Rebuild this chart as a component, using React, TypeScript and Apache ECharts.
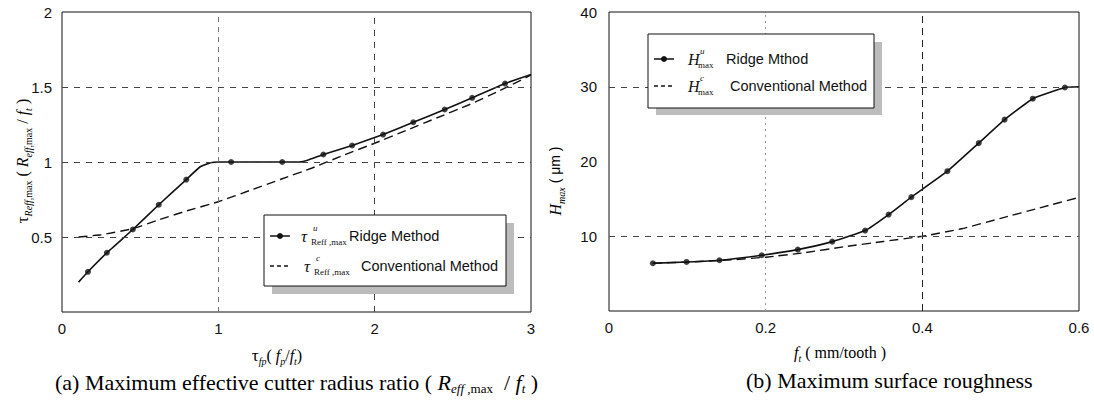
import React, { useEffect, useRef } from 'react';
import * as echarts from 'echarts';

// ---------- (a) data ----------
const ridgeA_x = [0.106, 0.166, 0.287, 0.453, 0.619, 0.795, 0.88, 0.95, 1.0, 1.082, 1.409, 1.52, 1.58, 1.672, 1.856, 2.054, 2.247, 2.448, 2.624, 2.834, 3.0];
const ridgeA_y = [0.199, 0.268, 0.395, 0.55, 0.715, 0.883, 0.965, 0.995, 1.0, 1.0, 1.0, 1.0, 1.015, 1.05, 1.11, 1.183, 1.265, 1.35, 1.428, 1.523, 1.583];
const markA_x = [0.166, 0.287, 0.453, 0.619, 0.795, 1.082, 1.409, 1.672, 1.856, 2.054, 2.247, 2.448, 2.624, 2.834];
const markA_y = [0.268, 0.395, 0.55, 0.715, 0.883, 1.0, 1.0, 1.05, 1.11, 1.183, 1.265, 1.35, 1.428, 1.523];
const convA_x = [0.106, 0.25, 0.45, 0.62, 0.8, 1.0, 1.2, 1.4, 1.6, 1.8, 2.0, 2.2, 2.4, 2.6, 2.8, 3.0];
const convA_y = [0.5, 0.515, 0.555, 0.615, 0.675, 0.735, 0.81, 0.885, 0.96, 1.045, 1.125, 1.21, 1.295, 1.38, 1.475, 1.58];
const gridA_x = [1, 2];
const gridA_y = [0.5, 1, 1.5];

// ---------- (b) data ----------
const ridgeB_x = [0.056, 0.099, 0.141, 0.195, 0.241, 0.285, 0.327, 0.357, 0.386, 0.432, 0.472, 0.505, 0.541, 0.582, 0.6];
const ridgeB_y = [6.39, 6.56, 6.79, 7.46, 8.21, 9.28, 10.76, 12.9, 15.23, 18.7, 22.46, 25.6, 28.4, 29.9, 30.0];
const markB_x = [0.056, 0.099, 0.141, 0.195, 0.241, 0.285, 0.327, 0.357, 0.386, 0.432, 0.472, 0.505, 0.541, 0.582];
const markB_y = [6.39, 6.56, 6.79, 7.46, 8.21, 9.28, 10.76, 12.9, 15.23, 18.7, 22.46, 25.6, 28.4, 29.9];
const convB_x = [0.056, 0.1, 0.15, 0.2, 0.25, 0.3, 0.35, 0.4, 0.45, 0.5, 0.55, 0.6];
const convB_y = [6.39, 6.55, 6.8, 7.2, 7.8, 8.6, 9.3, 10.0, 11.0, 12.4, 13.8, 15.2];
const gridB_x = [0.2, 0.4];
const gridB_y = [10, 30];

const zip = (xs: number[], ys: number[]) => xs.map((x, i) => [x, ys[i]]);

const SANS = '"Liberation Sans", Arial, sans-serif';
const SERIF = '"Liberation Serif", "Times New Roman", serif';

const subRich = {
  t: { fontFamily: SERIF, fontSize: 17, lineHeight: 22, color: '#111' },
  i: { fontFamily: SERIF, fontStyle: 'italic', fontSize: 16, lineHeight: 22, color: '#111' },
  n: { fontFamily: SERIF, fontSize: 16, lineHeight: 22, color: '#111' },
  ns: { fontFamily: SANS, fontSize: 14, lineHeight: 22, color: '#111' },
  s: { fontFamily: SERIF, fontStyle: 'italic', fontSize: 10, verticalAlign: 'bottom', color: '#111' },
  su: { fontFamily: SERIF, fontSize: 10, verticalAlign: 'bottom', color: '#111' },
};

const capRich = {
  n: { fontFamily: SERIF, fontSize: 22, lineHeight: 26, color: '#111' },
  i: { fontFamily: SERIF, fontStyle: 'italic', fontSize: 22, lineHeight: 26, color: '#111' },
  s: { fontFamily: SERIF, fontStyle: 'italic', fontSize: 13, verticalAlign: 'bottom', color: '#111' },
  su: { fontFamily: SERIF, fontSize: 13, verticalAlign: 'bottom', color: '#111' },
};

function txt(x: number, y: number, text: string, font: string, extra: any = {}) {
  return { type: 'text', x, y, z: 110, style: { text, font, fill: '#111', verticalAlign: 'middle', ...extra } };
}

function legendRow(lx: number, y: number, dashed: boolean, sym: string, symX: number, sup: string, sub: string, subX: number, label: string, labelX: number, symFont: string) {
  const els: any[] = [
    { type: 'line', z: 110, shape: { x1: lx, y1: y, x2: lx + 20, y2: y }, style: { stroke: '#111', lineWidth: dashed ? 1.3 : 1.5, lineDash: dashed ? [4, 3] : null } },
  ];
  if (!dashed) els.push({ type: 'circle', z: 111, shape: { cx: lx + 10, cy: y, r: 3 }, style: { fill: '#111' } });
  els.push(txt(symX, y, sym, symFont));
  els.push(txt(subX + 2, y - 8, sup, 'italic 9px ' + SERIF));
  els.push(txt(subX, y + 6, sub, '9px ' + SERIF));
  els.push(txt(labelX, y, label, '14.5px ' + SANS));
  return els;
}

const gridMarkLine = (xs: number[], ys: number[], styles?: any[]) => ({
  silent: true,
  symbol: ['none', 'none'],
  label: { show: false },
  lineStyle: { type: [6, 6], color: '#444', width: 1 },
  data: [
    ...xs.map((v, i) => ({ xAxis: v, lineStyle: styles && styles[i] ? styles[i] : undefined })),
    ...ys.map((v) => ({ yAxis: v })),
  ],
});

export default function App() {
  const ref = useRef<HTMLDivElement>(null);
  useEffect(() => {
    document.body.style.margin = '0';
    const chart = echarts.init(ref.current!, null, { renderer: 'svg' });
    const axisLabel = { fontFamily: SANS, fontSize: 15, color: '#111' };
    const option: any = {
      animation: false,
      backgroundColor: '#fff',
      grid: [
        { left: 62, top: 12, width: 469, height: 300, show: true, borderColor: '#111', borderWidth: 1, backgroundColor: 'transparent' },
        { left: 609, top: 12, width: 470, height: 299, show: true, borderColor: '#111', borderWidth: 1, backgroundColor: 'transparent' },
      ],
      xAxis: [
        { type: 'value', gridIndex: 0, min: 0, max: 3, interval: 1, axisLine: { show: false }, axisTick: { show: false }, splitLine: { show: false },
          axisLabel: { ...axisLabel, margin: 9 } },
        { type: 'value', gridIndex: 1, min: 0, max: 0.6, interval: 0.2, axisLine: { show: false }, axisTick: { show: false }, splitLine: { show: false },
          axisLabel: { ...axisLabel, margin: 9, formatter: (v: number) => (v === 0 ? '0' : v.toFixed(1)) } },
      ],
      yAxis: [
        { type: 'value', gridIndex: 0, min: 0, max: 2, interval: 0.5, axisLine: { show: false }, axisTick: { show: false }, splitLine: { show: false },
          axisLabel: { ...axisLabel, margin: 10, formatter: (v: number) => (v === 0 ? '' : String(v)) } },
        { type: 'value', gridIndex: 1, min: 0, max: 40, interval: 10, axisLine: { show: false }, axisTick: { show: false }, splitLine: { show: false },
          axisLabel: { ...axisLabel, margin: 12, formatter: (v: number) => (v === 0 ? '' : String(v)) } },
      ],
      series: [
        { type: 'line', xAxisIndex: 0, yAxisIndex: 0, data: zip(convA_x, convA_y), symbol: 'none', smooth: 0.15,
          lineStyle: { color: '#111', width: 1.4, type: [9, 5] }, z: 3,
          markLine: gridMarkLine(gridA_x, gridA_y, [{ type: [5, 5], color: '#777', width: 1 }, null]) },
        { type: 'line', xAxisIndex: 0, yAxisIndex: 0, data: zip(ridgeA_x, ridgeA_y), symbol: 'none', smooth: 0.12,
          lineStyle: { color: '#111', width: 1.6 }, z: 4 },
        { type: 'scatter', xAxisIndex: 0, yAxisIndex: 0, data: zip(markA_x, markA_y), symbolSize: 6, itemStyle: { color: '#111' }, z: 5 },

        { type: 'line', xAxisIndex: 1, yAxisIndex: 1, data: zip(convB_x, convB_y), symbol: 'none', smooth: 0.15,
          lineStyle: { color: '#111', width: 1.4, type: [9, 5] }, z: 3,
          markLine: gridMarkLine(gridB_x, gridB_y, [{ type: [2, 4], color: '#999', width: 1 }, { type: [7, 5], color: '#222', width: 1 }]) },
        { type: 'line', xAxisIndex: 1, yAxisIndex: 1, data: zip(ridgeB_x, ridgeB_y), symbol: 'none', smooth: 0.12,
          lineStyle: { color: '#111', width: 1.6 }, z: 4 },
        { type: 'scatter', xAxisIndex: 1, yAxisIndex: 1, data: zip(markB_x, markB_y), symbolSize: 6, itemStyle: { color: '#111' }, z: 5 },
      ],
      graphic: [
        // legend (a)
        { type: 'rect', z: 100, shape: { x: 272, y: 223, width: 242, height: 71 }, style: { fill: '#bcbcbc' } },
        { type: 'rect', z: 101, shape: { x: 264, y: 215, width: 242, height: 71 }, style: { fill: '#fff', stroke: '#111', lineWidth: 1 } },
        ...legendRow(270, 236, false, 'τ', 301, 'u', 'Reff ,max', 311, 'Ridge Method', 349, 'italic 17px ' + SERIF),
        ...legendRow(270, 266, true, 'τ', 304, 'c', 'Reff ,max', 314, 'Conventional Method', 361, 'italic 17px ' + SERIF),
        // legend (b)
        { type: 'rect', z: 100, shape: { x: 656, y: 42, width: 226, height: 73 }, style: { fill: '#bcbcbc' } },
        { type: 'rect', z: 101, shape: { x: 648, y: 34, width: 226, height: 74 }, style: { fill: '#fff', stroke: '#111', lineWidth: 1 } },
        ...legendRow(654, 59, false, 'H', 688, 'u', 'max', 698, 'Ridge Mthod', 726, 'italic 16px ' + SERIF),
        ...legendRow(654, 86, true, 'H', 688, 'c', 'max', 698, 'Conventional Method', 730, 'italic 16px ' + SERIF),
        // axis titles
        { type: 'text', z: 110, x: 22, y: 161, rotation: Math.PI / 2,
          style: { text: '{t|τ}{s|Reff}{su|,max}{n| ( }{i|R}{s|eff}{su|,max}{n| / }{i|f}{s|t}{n| )}', rich: subRich, align: 'center', verticalAlign: 'middle' } },
        { type: 'text', z: 110, x: 555, y: 181, rotation: Math.PI / 2,
          style: { text: '{i|H}{s|max}{ns| ( μm )}', rich: subRich, align: 'center', verticalAlign: 'middle' } },
        { type: 'text', z: 110, x: 277, y: 355,
          style: { text: '{t|τ}{s|fp}{n|( }{i|f}{s|p}{n|/}{i|f}{s|t}{n|)}', rich: subRich, align: 'center', verticalAlign: 'middle' } },
        { type: 'text', z: 110, x: 840, y: 352,
          style: { text: '{i|f}{s|t}{n| ( mm/tooth )}', rich: subRich, align: 'center', verticalAlign: 'middle' } },
        // captions
        { type: 'text', z: 110, x: 55, y: 382,
          style: { text: '{n|(a) Maximum effective cutter radius ratio ( }{i|R}{s|eff}{su| ,max}{n|  / }{i|f}{s|t}{n| )}', rich: capRich, align: 'left', verticalAlign: 'middle' } },
        { type: 'text', z: 110, x: 746, y: 380,
          style: { text: '{n|(b) Maximum surface roughness}', rich: capRich, align: 'left', verticalAlign: 'middle' } },
      ],
    };
    chart.setOption(option);
    return () => chart.dispose();
  }, []);
  return <div ref={ref} style={{ width: 1094, height: 401 }} />;
}
